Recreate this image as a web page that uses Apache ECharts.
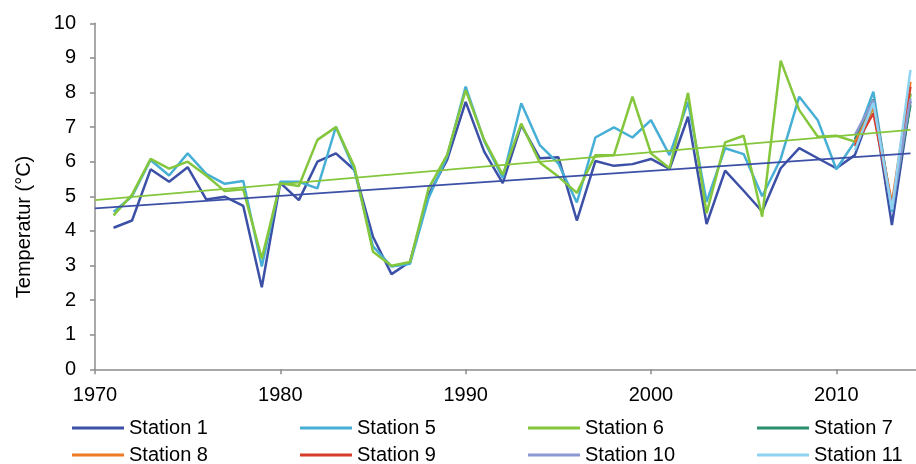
<!DOCTYPE html>
<html>
<head>
<meta charset="utf-8">
<script src="https://cdn.jsdelivr.net/npm/echarts@6/dist/echarts.min.js"></script>
<style>html,body{margin:0;padding:0;background:#fff;}#c{width:916px;height:464px;}</style>
</head>
<body>
<div id="c"></div>
<script>
var years = [1971,1972,1973,1974,1975,1976,1977,1978,1979,1980,1981,1982,1983,1984,1985,1986,1987,1988,1989,1990,1991,1992,1993,1994,1995,1996,1997,1998,1999,2000,2001,2002,2003,2004,2005,2006,2007,2008,2009,2010,2011,2012,2013,2014];
var station1 = [4.09,4.30,5.78,5.42,5.84,4.91,4.99,4.72,2.37,5.39,4.89,6.00,6.24,5.76,3.83,2.75,3.11,5.05,6.05,7.73,6.29,5.38,7.06,6.10,6.13,4.30,6.02,5.88,5.93,6.08,5.79,7.30,4.20,5.74,5.16,4.56,5.81,6.39,6.10,5.81,6.19,7.65,4.17,7.75];
var station5 = [4.55,5.00,6.05,5.60,6.24,5.65,5.36,5.44,2.97,5.42,5.42,5.23,7.01,5.75,3.55,2.97,3.05,4.95,6.15,8.17,6.60,5.53,7.69,6.48,5.95,4.82,6.70,6.99,6.70,7.20,6.19,7.73,4.84,6.39,6.22,5.00,6.08,7.88,7.20,5.78,6.58,8.02,4.55,7.95];
var station6 = [4.45,5.05,6.08,5.80,6.00,5.60,5.15,5.20,3.20,5.38,5.30,6.63,7.00,5.85,3.40,2.99,3.10,5.23,6.20,8.07,6.63,5.62,7.10,5.98,5.57,5.10,6.19,6.19,7.88,6.24,5.81,7.99,4.51,6.56,6.75,4.41,8.92,7.49,6.72,6.75,6.58,7.55,4.70,7.98];
var recentYears = [2011,2012,2013,2014];
var station7 = [6.65,7.80,4.70,7.64];
var station8 = [6.55,7.59,4.80,8.31];
var station9 = [6.45,7.40,4.70,8.17];
var station10 = [6.77,7.78,4.62,7.83];
var station11 = [6.33,7.70,4.62,8.65];
var trendYears = [1970,2014];
var trend1 = [4.65,6.24];
var trend6 = [4.89,6.92];
var xTicks = [1970,1980,1990,2000,2010];
var yTicks = [0,1,2,3,4,5,6,7,8,9,10];

var names = ['Station 1','Station 5','Station 6','Station 7','Station 8','Station 9','Station 10','Station 11'];
var colors = ['#3B50A6','#47AFD6','#84C63C','#2B8E6E','#EE7A25','#D83C2A','#8C98D2','#8FD3F2'];
var datasets = [[years,station1],[years,station5],[years,station6],[recentYears,station7],[recentYears,station8],[recentYears,station9],[recentYears,station10],[recentYears,station11]];

function pairs(xs, ys){ return xs.map(function(x,i){ return [x, ys[i]]; }); }

var series = names.map(function(n,i){
  return {
    name: n, type: 'line', data: pairs(datasets[i][0], datasets[i][1]),
    showSymbol: false, symbol: 'none', color: colors[i],
    lineStyle: {width: 2.5, color: colors[i]}, z: 2 + i
  };
});
series.push({name:'trend1', type:'line', data: pairs(trendYears, trend1), symbol:'none', lineStyle:{width:1.8,color:colors[0]}, color: colors[0], z: 20, silent: true});
series.push({name:'trend6', type:'line', data: pairs(trendYears, trend6), symbol:'none', lineStyle:{width:1.8,color:colors[2]}, color: colors[2], z: 21, silent: true});

var colX = [72, 300, 528, 757];
var rowY = [418, 445];
var legends = names.map(function(n,i){
  return {
    data: [n], left: colX[i % 4], top: rowY[Math.floor(i / 4)], padding: 0,
    icon: 'rect', itemWidth: 52, itemHeight: 3, itemGap: 0,
    textStyle: {fontFamily: 'Liberation Sans, Arial, sans-serif', fontSize: 20, color: '#000', lineHeight: 20, padding: [0,0,0,0]},
    selectedMode: false
  };
});

var chart = echarts.init(document.getElementById('c'), null, {renderer: 'canvas'});
chart.setOption({
  animation: false,
  backgroundColor: '#fff',
  grid: {left: 95, right: 0, top: 23.3, bottom: 94.7, containLabel: false},
  xAxis: {
    type: 'value', min: 1970, max: 2014.3, interval: 10,
    axisLine: {show: true, lineStyle: {color: '#8C8C8C', width: 1.5}},
    axisTick: {show: true, length: 5, lineStyle: {color: '#8C8C8C', width: 1.5}},
    axisLabel: {showMaxLabel: false, margin: 16, fontFamily: 'Liberation Sans, Arial, sans-serif', fontSize: 20, color: '#000',
      formatter: function(v){ return xTicks.indexOf(v) >= 0 ? String(v) : ''; }},
    splitLine: {show: false}
  },
  yAxis: {
    type: 'value', min: 0, max: 10, interval: 1,
    axisLine: {show: true, lineStyle: {color: '#8C8C8C', width: 1.5}},
    axisTick: {show: true, length: 5, lineStyle: {color: '#8C8C8C', width: 1.5}},
    axisLabel: {margin: 19, fontFamily: 'Liberation Sans, Arial, sans-serif', fontSize: 20, color: '#000',
      formatter: function(v){ return yTicks.indexOf(v) >= 0 ? String(v) : ''; }},
    splitLine: {show: false}
  },
  legend: legends,
  graphic: [{
    type: 'text', x: 24, y: 227, rotation: Math.PI / 2,
    style: {text: 'Temperatur (°C)', fontFamily: 'Liberation Sans, Arial, sans-serif', fontSize: 20, fill: '#000', align: 'center', verticalAlign: 'middle'}
  }],
  series: series
});
</script>
</body>
</html>
